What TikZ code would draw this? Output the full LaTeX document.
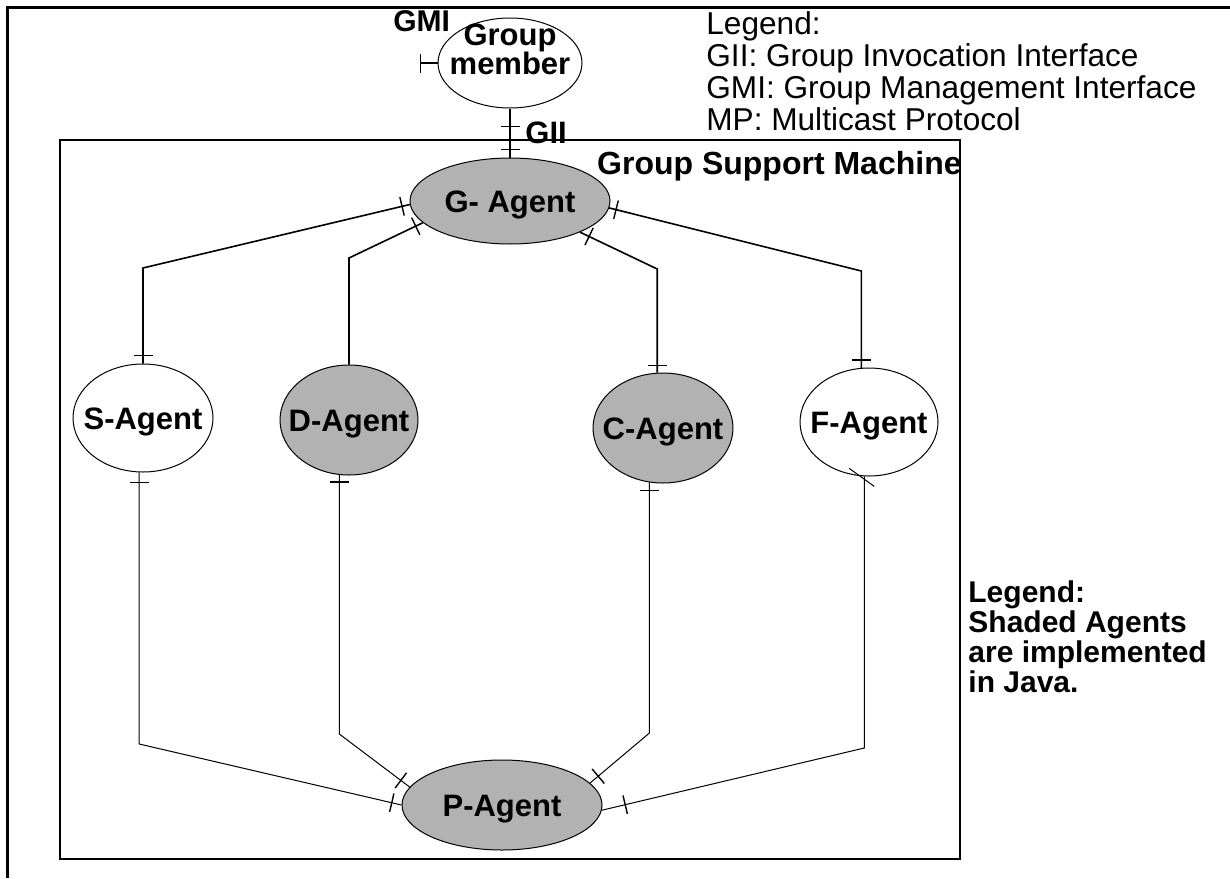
\documentclass[tikz,border=0pt]{standalone}
\usepackage{fontspec}
\setmainfont{Liberation Sans}
\usetikzlibrary{shapes.geometric,arrows.meta,decorations.markings}
\definecolor{shade}{gray}{0.7}
\newcommand{\agentfont}{\fontsize{15.5}{17}\selectfont\bfseries}
\begin{document}
\begin{tikzpicture}[x=0.5pt,y=-0.5pt,
    agent/.style={ellipse,draw,line width=0.5pt,inner sep=0pt,font=\agentfont,text height=11pt,text depth=0pt},
    link/.style={line width=0.8pt},
    barA/.style={postaction={decorate,decoration={markings,
        mark=at position #1 with {\draw[line width=0.7pt] (0,-9.5) -- (0,9.5);}}}}]
\useasboundingbox (0,0) rectangle (1230,878);
% frames
\draw[line width=1.5pt] (1230,7) -- (7,7) -- (7,878);
\draw[line width=1pt] (60,140) rectangle (960,859);
% agents
\node[agent,minimum width=72pt,minimum height=45pt] (member) at (510,63) {};
\node[align=center,inner sep=0pt,font=\fontsize{15.5}{14.5}\selectfont\bfseries] (memberlbl) at (510,49) {Group\\member};
\node[agent,fill=shade,minimum width=100pt,minimum height=43pt] (G) at (510,201) {\makebox[0pt]{G- Agent}};
\node[agent,minimum width=70pt,minimum height=54pt] (S) at (143,418) {\makebox[0pt]{S-Agent}};
\node[agent,fill=shade,minimum width=69pt,minimum height=55pt] (D) at (349,420) {\makebox[0pt]{D-Agent}};
\node[agent,fill=shade,minimum width=70pt,minimum height=55pt] (C) at (663,428) {\makebox[0pt]{C-Agent}};
\node[agent,minimum width=69pt,minimum height=54pt] (F) at (869,422) {\makebox[0pt]{F-Agent}};
\node[agent,fill=shade,minimum width=100pt,minimum height=45pt] (P) at (502,805) {\makebox[0pt]{P-Agent}};
% interfaces of the group member
\coordinate (gmiend) at (420,63);
\draw[link,{Bar[width=9.5pt,line width=0.7pt]}-] (gmiend) -- (member.west);
\draw[link,barA=9pt,barA=-4pt] (member.south) -- (G.north);
\node[anchor=base west,inner sep=0pt,font=\fontsize{15}{17}\selectfont\bfseries] (gmi) at (393,32) {GMI};
\node[anchor=base west,inner sep=0pt,font=\agentfont] (gii) at (525,143) {GII};
% G-Agent to the agents
\draw[link,barA=4pt,barA=-4pt] (G.182) -- (S.north |- 0,268) -- (S.north);
\draw[link,barA=4pt] (G.194) -- (D.north |- 0,258) -- (D.north);
\draw[link,barA=5pt,barA=-3.5pt] (G.336) -- (C.96 |- 0,269) -- (C.96);
\draw[link,barA=3.5pt,barA=-4pt] (G.356) -- (F.98 |- 0,271) -- (F.98);
% agents to the P-Agent
\draw[line width=0.5pt,barA=5pt,barA=-5pt] (S.266) -- (S.266 |- 0,744) -- (P.west);
\draw[line width=0.5pt,barA=3.5pt,barA=-5.5pt] (D.260) -- (D.260 |- 0,734) -- (P.169);
\draw[line width=0.5pt,barA=4pt,barA=-5.3pt] (C.256) -- (C.256 |- 0,733) -- (P.14);
\draw[line width=0.5pt,barA=-12pt] (F.265) -- (F.265 |- 0,748) -- (P.357);
\draw[line width=0.5pt] (F.265) ++(-15,-8) -- ++(25,18);
% captions
\node[anchor=base east,inner sep=0pt,font=\fontsize{16}{18}\selectfont\bfseries] (gsm) at (962,174) {Group Support Machine};
\node[anchor=north west,inner sep=0pt,align=left,font=\fontsize{15.8}{16}\selectfont] (legendtop) at (706,11)
  {Legend:\\GII: Group Invocation Interface\\GMI: Group Management Interface\\MP: Multicast Protocol};
\node[anchor=north west,inner sep=0pt,align=left,font=\fontsize{15}{15}\selectfont\bfseries] (legendright) at (968,580)
  {Legend:\\Shaded Agents\\are implemented\\in Java.};
\end{tikzpicture}
\end{document}
